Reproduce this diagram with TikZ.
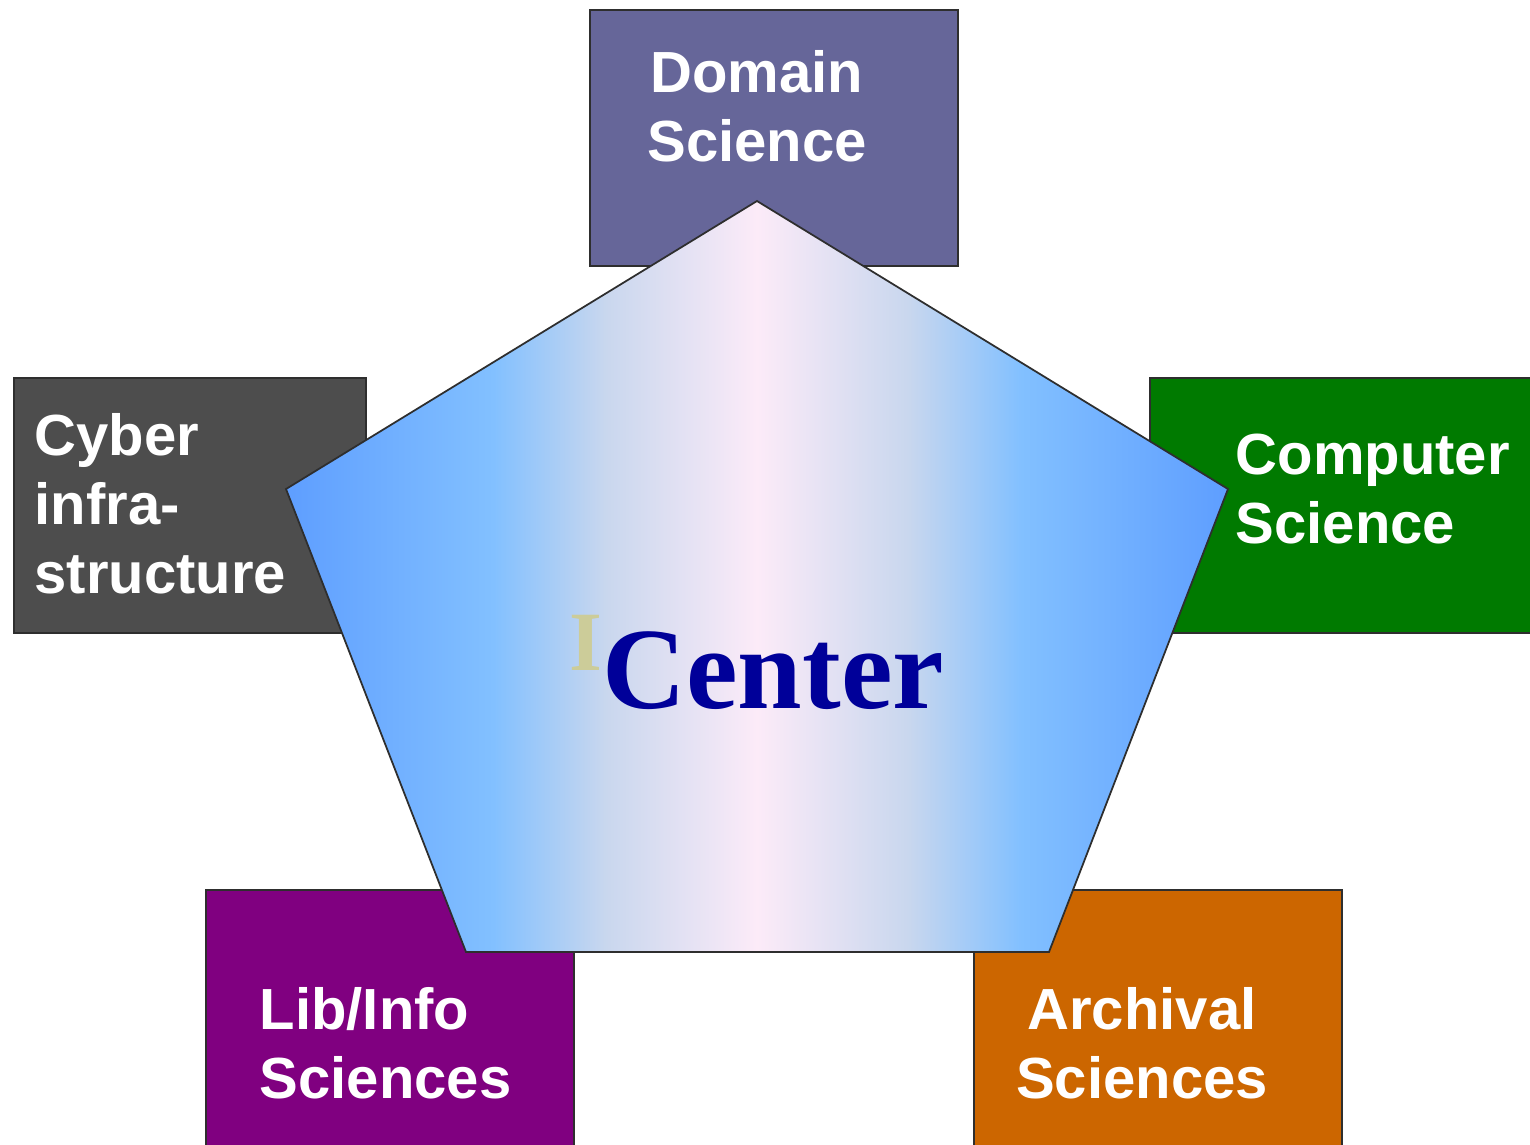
\documentclass[tikz,border=0pt]{standalone}
\usepackage{fontspec}
\setmainfont{Liberation Sans}
\newfontfamily\centerfont{Liberation Serif}
\usepackage{xcolor}
\usepackage{tikz}

\definecolor{domainc}{HTML}{666699}
\definecolor{cyberc}{HTML}{4D4D4D}
\definecolor{compc}{HTML}{007A00}
\definecolor{libc}{HTML}{800080}
\definecolor{archc}{HTML}{CC6600}
\definecolor{edgec}{HTML}{2E2E2E}
\definecolor{pentedge}{HTML}{5E9EFF}
\definecolor{pentsky}{HTML}{82C0FF}
\definecolor{pentmist}{HTML}{C9D7EE}
\definecolor{pentpink}{HTML}{FCEBF8}
\definecolor{inkblue}{HTML}{000099}
\definecolor{ikhaki}{HTML}{CCCC99}

\pgfdeclarehorizontalshading{pentfade}{100bp}{color(0bp)=(pentedge); color(25bp)=(pentedge); color(36bp)=(pentsky); color(42bp)=(pentmist); color(50bp)=(pentpink); color(58bp)=(pentmist); color(64bp)=(pentsky); color(75bp)=(pentedge); color(100bp)=(pentedge)}

\tikzset{
    field/.style={draw=edgec, line width=0.5pt, rectangle, anchor=north west, inner sep=0pt},
    lbl/.style={text=white, inner sep=0pt, font=\fontsize{16.5}{19.6}\selectfont\bfseries}
}

\begin{document}
\begin{tikzpicture}[x=0.01cm, y=-0.01cm]
    \useasboundingbox (0,0) rectangle (1530,1144);

    % Fields
    \node[field, fill=domainc, minimum width=3.68cm, minimum height=2.56cm] (dom) at (589,9) {};
    \node[field, fill=cyberc, minimum width=3.52cm, minimum height=2.55cm] (cyb) at (13,377) {};
    \node[field, fill=compc, minimum width=3.95cm, minimum height=2.55cm] (comp) at (1149,377) {};
    \node[field, fill=libc, minimum width=3.68cm, minimum height=2.65cm] (lib) at (205,889) {};
    \node[field, fill=archc, minimum width=3.68cm, minimum height=2.65cm] (arch) at (973,889) {};

    % Pentagon
    \coordinate (ptop) at (757,201);
    \coordinate (prgt) at (1228,489);
    \coordinate (pbr) at (1049,952);
    \coordinate (pbl) at (466,952);
    \coordinate (plft) at (286,489);
    \shade[shading=pentfade, draw=edgec, line width=0.5pt] (ptop) -- (prgt) -- (pbr) -- (pbl) -- (plft) -- cycle;

    % Labels
    \node[lbl, anchor=north, align=center] (domtxt) at (757,50) {Domain\\Science};
    \node[lbl, anchor=north west, align=left] (cybtxt) at (34,413) {Cyber\\infra-\\structure};
    \node[lbl, anchor=north west, align=left] (comptxt) at (1235,433) {Computer\\Science};
    \node[lbl, anchor=north west, align=left] (libtxt) at (259,987) {Lib/Info\\Sciences};
    \node[lbl, anchor=north, align=center] (archtxt) at (1142,987) {Archival\\Sciences};

    \node[anchor=base west, inner sep=0pt] (ctr) at (569,708)
        {\centerfont\bfseries{\fontsize{24}{24}\selectfont\raisebox{10.8pt}{\textcolor{ikhaki}{I}}}{\fontsize{33}{33}\selectfont\textcolor{inkblue}{Center}}};
\end{tikzpicture}
\end{document}
